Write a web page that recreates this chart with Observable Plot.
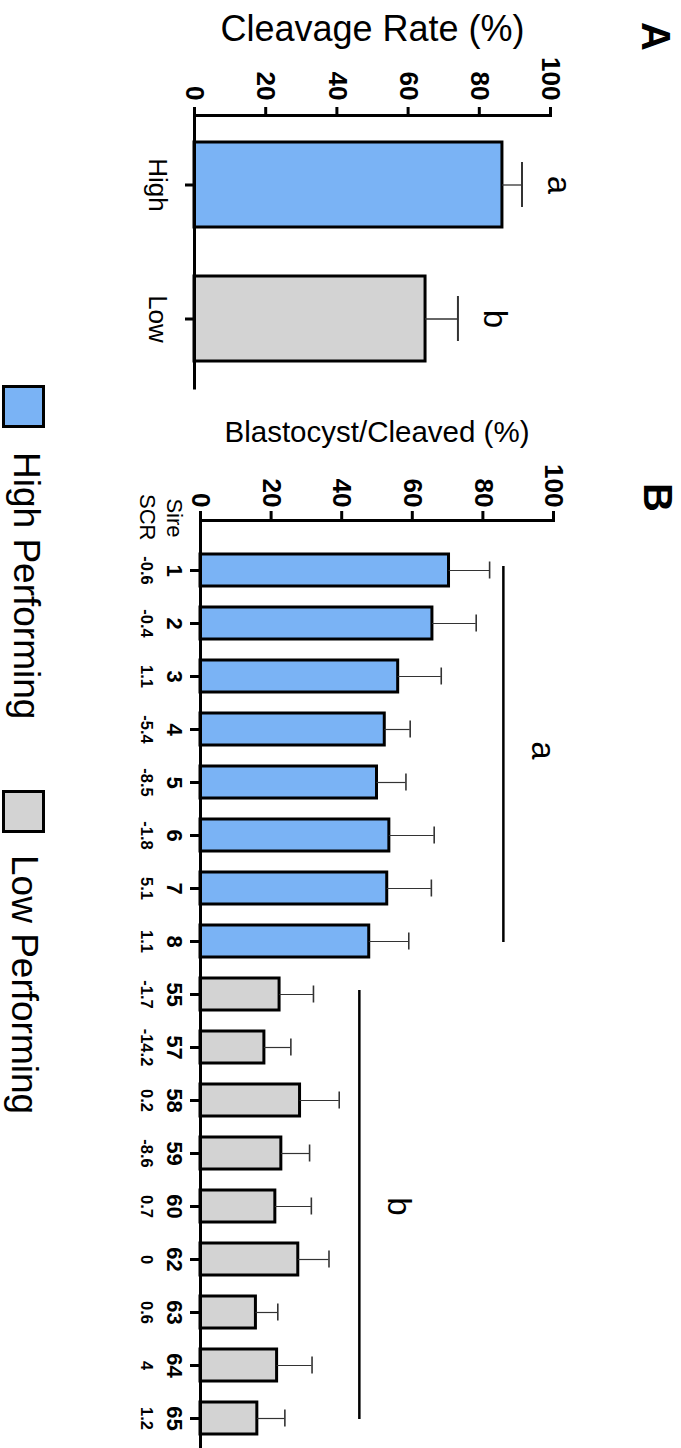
<!DOCTYPE html>
<html>
<head>
<meta charset="utf-8">
<script src="https://cdn.jsdelivr.net/npm/d3@7"></script>
<script src="https://cdn.jsdelivr.net/npm/@observablehq/plot@0.6"></script>
<style>
  html, body { margin: 0; padding: 0; background: #fff; }
  #fig { position: relative; width: 681px; height: 1448px; overflow: hidden;
         font-family: "Liberation Sans", Arial, Helvetica, sans-serif; color: #000; }
  #fig .panel { position: absolute; left: 0; }
  .sw { position: absolute; left: 2px; width: 43px; height: 43px; box-sizing: border-box; border: 3px solid #000; }
  .lt { position: absolute; writing-mode: vertical-rl; font-size: 37px; line-height: 37px; white-space: nowrap; }
</style>
</head>
<body>
<div id="fig"></div>
<script>
// ---------- data ----------
const groupsA = ["High", "Low"];
const cleavageMean = [86.5, 64.9];
const cleavageSEM = [5.5, 9.1];
const lettersA = ["a", "b"];

const sires = ["1", "2", "3", "4", "5", "6", "7", "8", "55", "57", "58", "59", "60", "62", "63", "64", "65"];
const scrValues = ["-0.6", "-0.4", "1.1", "-5.4", "-8.5", "-1.8", "5.1", "1.1", "-1.7", "-14.2", "0.2", "-8.6", "0.7", "0", "0.6", "4", "1.2"];
const blastMean = [70.4, 65.7, 56.0, 52.2, 50.0, 53.5, 52.9, 47.8, 22.4, 18.1, 28.2, 22.9, 21.2, 27.7, 15.7, 21.7, 16.1];
const blastSEM = [11.5, 12.4, 12.2, 7.2, 8.2, 12.7, 12.5, 11.2, 9.6, 7.5, 11.1, 8.0, 10.2, 8.7, 6.2, 9.9, 7.8];
const sirePerf = ["High", "High", "High", "High", "High", "High", "High", "High",
                  "Low", "Low", "Low", "Low", "Low", "Low", "Low", "Low", "Low"];
const groupFirst = ["1", "55"];
const groupLast = ["8", "65"];
const groupLetters = ["a", "b"];

const valueTicks = [0, 20, 40, 60, 80, 100];
const legendLabels = ["High Performing", "Low Performing"];
const perfColors = ["#7ab3f5", "#d3d3d3"];

// ---------- tables ----------
const FONT = '"Liberation Sans", Arial, Helvetica, sans-serif';
const dataA = groupsA.map((g, i) => ({group: g, mean: cleavageMean[i], sem: cleavageSEM[i], letter: lettersA[i]}));
const dataB = sires.map((s, i) => ({sire: s, scr: scrValues[i], mean: blastMean[i], sem: blastSEM[i], perf: sirePerf[i]}));
const groupsB = groupLetters.map((l, i) => ({letter: l, first: groupFirst[i], last: groupLast[i]}));

const fig = document.getElementById("fig");

// ---------- Panel A ----------
const plotA = Plot.plot({
  width: 681, height: 400,
  marginTop: 115, marginLeft: 194, marginRight: 131, marginBottom: 12,
  style: {fontFamily: FONT, background: "transparent", overflow: "visible", color: "#000"},
  x: {domain: [0, 100]},
  y: {domain: groupsA, paddingInner: 0.366, paddingOuter: 0.2},
  color: {domain: ["High", "Low"], range: perfColors},
  marks: [
    Plot.barX(dataA, {y: "group", x: "mean", fill: "group", stroke: "#000", strokeWidth: 3}),
    Plot.ruleY(dataA, {y: "group", x1: "mean", x2: d => d.mean + d.sem, stroke: "#333", strokeWidth: 1.3}),
    Plot.tickX(dataA, {y: "group", x: d => d.mean + d.sem, stroke: "#333", strokeWidth: 2, insetTop: 20, insetBottom: 20}),
    Plot.text(dataA, {y: "group", x: d => d.mean + d.sem, text: "letter", dx: 37, rotate: 90,
                      textAnchor: "middle", lineAnchor: "middle", fontSize: 33}),
    Plot.ruleX([0], {stroke: "#000", strokeWidth: 3, strokeLinecap: "square"}),
    Plot.frame({anchor: "top", stroke: "#000", strokeWidth: 3, strokeLinecap: "square"}),
    Plot.axisX({anchor: "top", ticks: valueTicks, tickSize: 9, tickPadding: 6, tickRotate: 90,
                textAnchor: "end", lineAnchor: "middle",
                strokeWidth: 3, fontSize: 26, fontWeight: "bold", label: null}),
    Plot.axisY({anchor: "left", tickSize: 9, tickPadding: 18, tickRotate: 90,
                textAnchor: "middle", lineAnchor: "top",
                strokeWidth: 3, fontSize: 26, label: null}),
    Plot.text(["Cleavage Rate (%)"], {frameAnchor: "top", dy: -86.5, textAnchor: "middle", lineAnchor: "middle", fontSize: 36}),
    Plot.text(["A"], {frameAnchor: "top-right", dx: 104, dy: -79, rotate: 90,
                      textAnchor: "middle", lineAnchor: "middle", fontSize: 40, fontWeight: "bold"})
  ]
});
plotA.classList.add("panel");
plotA.style.top = "0px";
fig.appendChild(plotA);

// ---------- Panel B ----------
const plotB = Plot.plot({
  width: 681, height: 1048,
  marginTop: 120, marginLeft: 200, marginRight: 128, marginBottom: 0,
  style: {fontFamily: FONT, background: "transparent", overflow: "visible", color: "#000"},
  x: {domain: [0, 100]},
  y: {domain: sires, paddingInner: 0.387, paddingOuter: 0.309, align: 0.71},
  color: {domain: ["High", "Low"], range: perfColors},
  marks: [
    Plot.barX(dataB, {y: "sire", x: "mean", fill: "perf", stroke: "#000", strokeWidth: 3}),
    Plot.ruleY(dataB, {y: "sire", x1: "mean", x2: d => d.mean + d.sem, stroke: "#333", strokeWidth: 1.2}),
    Plot.tickX(dataB, {y: "sire", x: d => d.mean + d.sem, stroke: "#333", strokeWidth: 1.6, insetTop: 7.5, insetBottom: 7.5}),
    Plot.ruleX(groupsB, {x: [85.8, 45.0], y1: "first", y2: "last", stroke: "#000", strokeWidth: 2.5, insetTop: 12, insetBottom: 15}),
    Plot.text(groupsB.slice(0, 1), {x: () => 96.8, y: () => "4", dy: 21, text: "letter", rotate: 90,
                      textAnchor: "middle", lineAnchor: "middle", fontSize: 33}),
    Plot.text(groupsB.slice(1, 2), {x: () => 56.0, y: () => "60", text: "letter", rotate: 90,
                      textAnchor: "middle", lineAnchor: "middle", fontSize: 33}),
    Plot.ruleX([0], {stroke: "#000", strokeWidth: 3, strokeLinecap: "square"}),
    Plot.frame({anchor: "top", stroke: "#000", strokeWidth: 3, strokeLinecap: "square"}),
    Plot.axisX({anchor: "top", ticks: valueTicks, tickSize: 10, tickPadding: 3, tickRotate: 90,
                textAnchor: "end", lineAnchor: "middle",
                strokeWidth: 3, fontSize: 26, fontWeight: "bold", label: null}),
    Plot.axisY({anchor: "left", tickSize: 10, tickPadding: 8, tickRotate: 90,
                textAnchor: "middle", lineAnchor: "top",
                strokeWidth: 3, fontSize: 22, fontWeight: "bold", label: null}),
    Plot.text(dataB, {y: "sire", text: "scr", frameAnchor: "left", dx: -48, rotate: 90,
                      textAnchor: "middle", lineAnchor: "top", fontSize: 16.5, fontWeight: "bold"}),
    Plot.text(["Sire"], {frameAnchor: "top-left", dx: -18, dy: 17, rotate: 90, textAnchor: "end", lineAnchor: "top", fontSize: 22}),
    Plot.text(["SCR"], {frameAnchor: "top-left", dx: -45, dy: 20, rotate: 90, textAnchor: "end", lineAnchor: "top", fontSize: 22}),
    Plot.text(["Blastocyst/Cleaved (%)"], {frameAnchor: "top", dy: -88, textAnchor: "middle", lineAnchor: "middle", fontSize: 29.5}),
    Plot.text(["B"], {frameAnchor: "top-right", dx: 103, dy: -23, rotate: 90,
                      textAnchor: "middle", lineAnchor: "middle", fontSize: 40, fontWeight: "bold"})
  ]
});
plotB.classList.add("panel");
plotB.style.top = "400px";
fig.appendChild(plotB);

// ---------- Legend ----------
const legendTops = [385, 790];
const legendTextTops = [452, 855];
const legendTextLefts = [8, 6];
legendLabels.forEach((lab, i) => {
  const sw = document.createElement("div");
  sw.className = "sw";
  sw.style.top = legendTops[i] + "px";
  sw.style.background = perfColors[i];
  fig.appendChild(sw);
  const t = document.createElement("div");
  t.className = "lt";
  t.style.top = legendTextTops[i] + "px";
  t.style.left = legendTextLefts[i] + "px";
  t.textContent = lab;
  fig.appendChild(t);
});
</script>
</body>
</html>
